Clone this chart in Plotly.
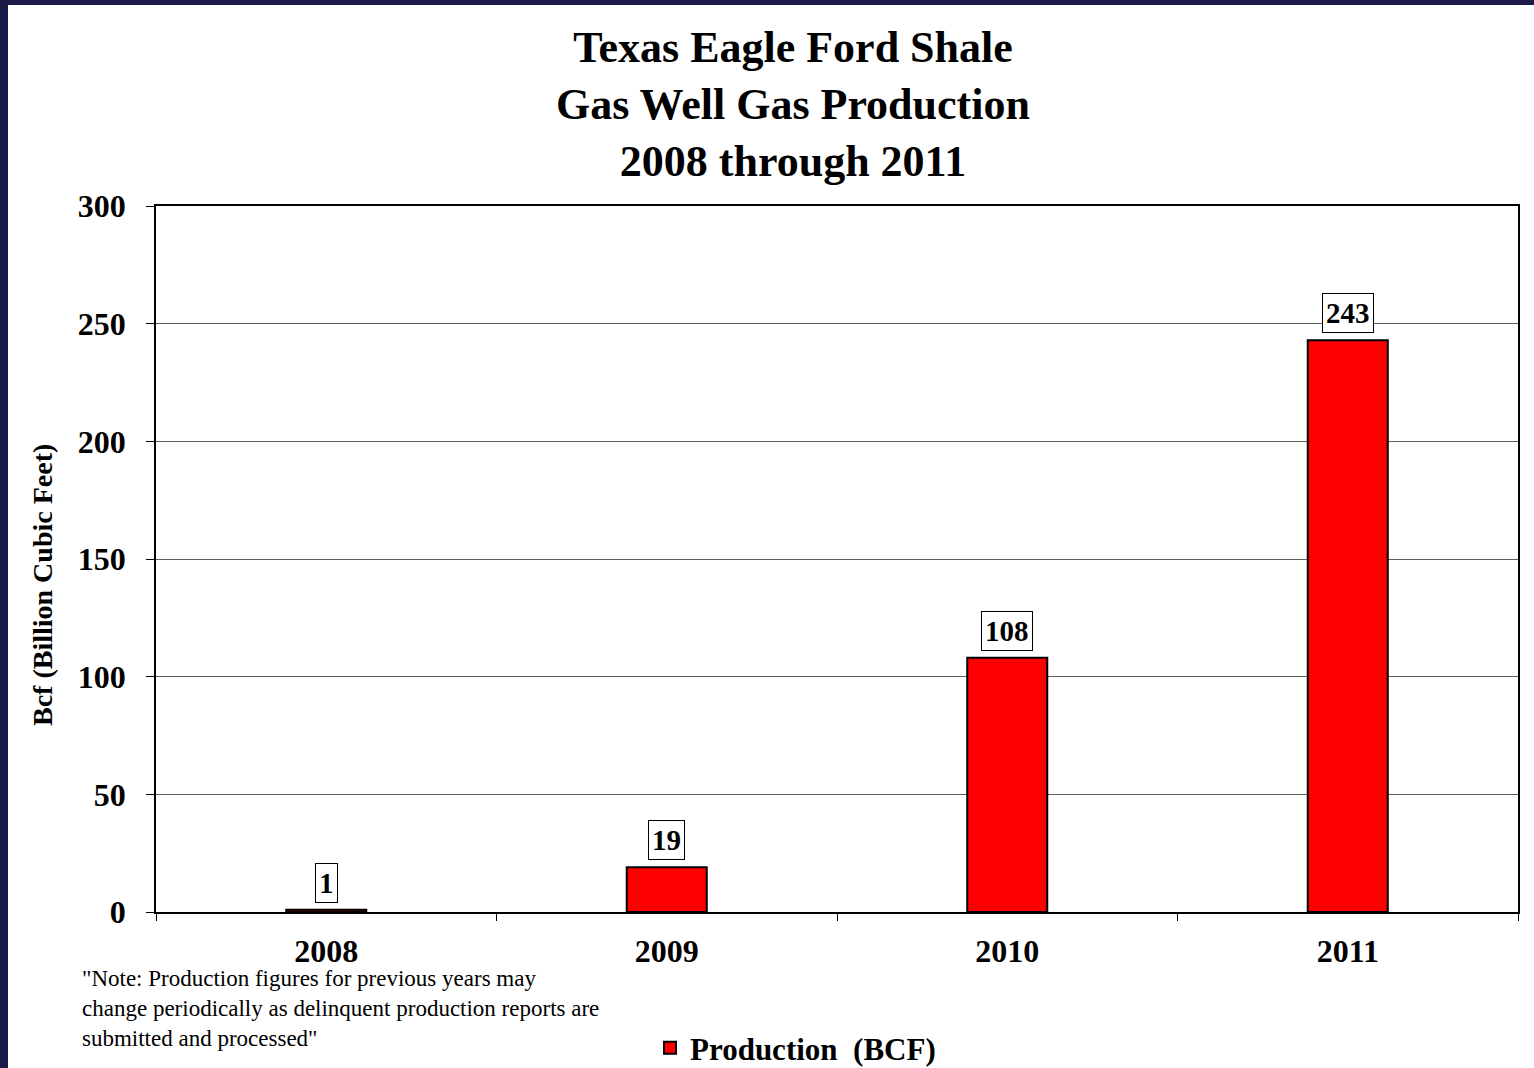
import plotly.graph_objects as go

years = ["2008", "2009", "2010", "2011"]
production_bcf = [1, 19, 108, 243]
value_labels = ["1", "19", "108", "243"]
y_ticks = [0, 50, 100, 150, 200, 250, 300]

W, H = 1534, 1068
L, R, T, B = 156, 16, 206, 156
pw, ph = W - L - R, H - T - B

def px(xp):
    return (xp - L) / pw

def py(yp):
    return (H - B - yp) / ph

FONT = "Liberation Serif"
NAVY = "#1c1a48"

fig = go.Figure()
fig.add_trace(go.Bar(
    x=years, y=production_bcf, name="Production  (BCF)",
    marker=dict(color="#ff0000", line=dict(color="black", width=2)),
    showlegend=True,
))

for i, (v, lab) in enumerate(zip(production_bcf, value_labels)):
    fig.add_annotation(
        x=i, y=v, text=lab, showarrow=False, yanchor="bottom", yshift=7,
        font=dict(family=FONT, size=29, color="black", weight="bold"),
        bordercolor="black", borderwidth=1, borderpad=3, bgcolor="white",
    )

fig.add_annotation(
    xref="paper", yref="paper", x=px(80), y=py(964), xanchor="left", yanchor="top",
    align="left", showarrow=False,
    text='"Note: Production figures for previous years may<br>change periodically as delinquent production reports are<br>submitted and processed"',
    font=dict(family=FONT, size=23, color="black"),
)

# y-axis title placed as in the reference
fig.add_annotation(
    xref="paper", yref="paper", x=px(42), y=py(585), xanchor="center", yanchor="middle",
    textangle=-90, showarrow=False, text="Bcf (Billion Cubic Feet)",
    font=dict(family=FONT, size=28, color="black", weight="bold"),
)

# navy frame edges
fig.add_shape(type="rect", xref="paper", yref="paper", x0=px(0), x1=px(8), y0=py(H), y1=py(0),
              fillcolor=NAVY, line=dict(width=0), layer="above")
fig.add_shape(type="rect", xref="paper", yref="paper", x0=px(0), x1=px(W), y0=py(5), y1=py(0),
              fillcolor=NAVY, line=dict(width=0), layer="above")

fig.update_layout(
    width=W, height=H,
    margin=dict(l=L, r=R, t=T, b=B, autoexpand=False),
    paper_bgcolor="white", plot_bgcolor="white",
    bargap=0.765,
    font=dict(family=FONT, color="black"),
    title=dict(
        text="Texas Eagle Ford Shale<br>Gas Well Gas Production<br>2008 through 2011",
        x=793 / W, xanchor="center", xref="container",
        y=1 - 62 / H, yanchor="top", yref="container",
        font=dict(family=FONT, size=44, color="black", weight="bold"),
    ),
    legend=dict(
        orientation="h", x=px(650), xanchor="left", y=py(1048), yanchor="middle",
        font=dict(family=FONT, size=31, color="black", weight="bold"),
        bgcolor="rgba(0,0,0,0)",
    ),
    xaxis=dict(
        type="category", range=[-0.5, 3.5], tickson="boundaries", ticks="outside", ticklen=7,
        tickcolor="black", tickwidth=1,
        showline=True, linecolor="black", linewidth=1.5, mirror=True,
        showgrid=False,
        tickfont=dict(family=FONT, size=32, color="black", weight="bold"),
        ticklabelstandoff=10,
    ),
    yaxis=dict(
        range=[0, 300], tickvals=y_ticks, ticks="outside", ticklen=8,
        tickcolor="black", tickwidth=1,
        showline=True, linecolor="black", linewidth=1.5, mirror=True,
        showgrid=True, gridcolor="#606060", gridwidth=1,
        zeroline=False,
        tickfont=dict(family=FONT, size=32, color="black", weight="bold"),
        ticklabelstandoff=14,
    ),
)

fig.write_html("out.html")
